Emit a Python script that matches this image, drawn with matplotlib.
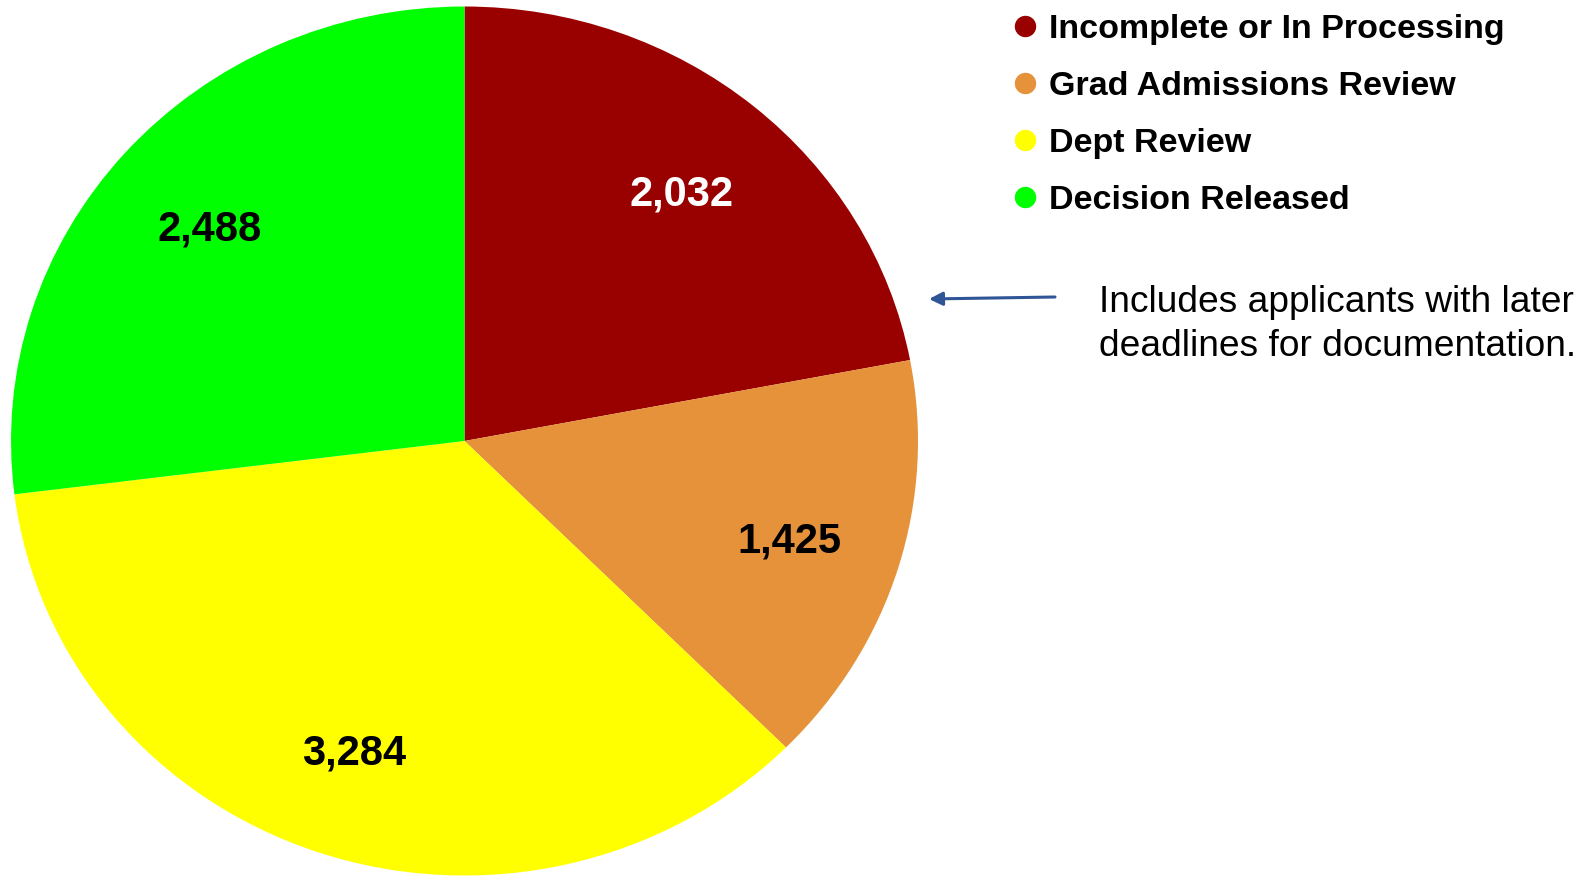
import matplotlib
matplotlib.use("Agg")
import matplotlib.pyplot as plt
from matplotlib.lines import Line2D

plt.rcParams['font.family'] = ['Liberation Sans', 'DejaVu Sans']

# application status counts
labels = ["Incomplete or In Processing", "Grad Admissions Review",
          "Dept Review", "Decision Released"]
counts = [2032, 1425, 3284, 2488]
colors = ["#990000", "#E5923A", "#FFFF00", "#00FF00"]
pct_colors = ["white", "black", "black", "black"]

note = "Includes applicants with later\ndeadlines for documentation."

total = sum(counts)


def fmt(pct):
    return f"{round(pct * total / 100):,}"


fig = plt.figure(figsize=(15.87, 8.77), dpi=100)
ax = fig.add_axes([11 / 1587, 1.5 / 877, 907 / 1587, 869 / 877])

wedges, texts, autotexts = ax.pie(
    counts, colors=colors, startangle=90, counterclock=False,
    autopct=fmt, pctdistance=0.75,
    textprops=dict(fontsize=30, fontweight='bold'))
for t, c in zip(autotexts, pct_colors):
    t.set_color(c)
    t.set_va('center_baseline')

# pie is slightly stretched in the original
ax.set_aspect('auto')
ax.set_xlim(-1, 1)
ax.set_ylim(-1, 1)

handles = [Line2D([], [], linestyle='none', marker='o', markersize=14.4,
                  markerfacecolor=c, markeredgecolor=c) for c in colors]
fig.legend(handles, labels, loc='upper left',
           bbox_to_anchor=(1012 / 1587, 1 - 14 / 877),
           frameon=False, borderpad=0, borderaxespad=0,
           handlelength=0.75, handletextpad=0.35, labelspacing=0.76,
           prop=dict(size=24.5, weight='bold'))

# arrow + note
fig.add_artist(plt.Annotation(
    "", xy=(929 / 1587, 1 - 299 / 877), xycoords='figure fraction',
    xytext=(1055 / 1587, 1 - 297 / 877), textcoords='figure fraction',
    arrowprops=dict(arrowstyle='-|>', color='#2F5597', lw=2.2,
                    mutation_scale=20, shrinkA=0, shrinkB=0)))
fig.text(1099 / 1587, 1 - 285 / 877, note, fontsize=26.7,
         va='top', ha='left', linespacing=1.32)

fig.savefig("out.png", dpi=100, facecolor='white')
